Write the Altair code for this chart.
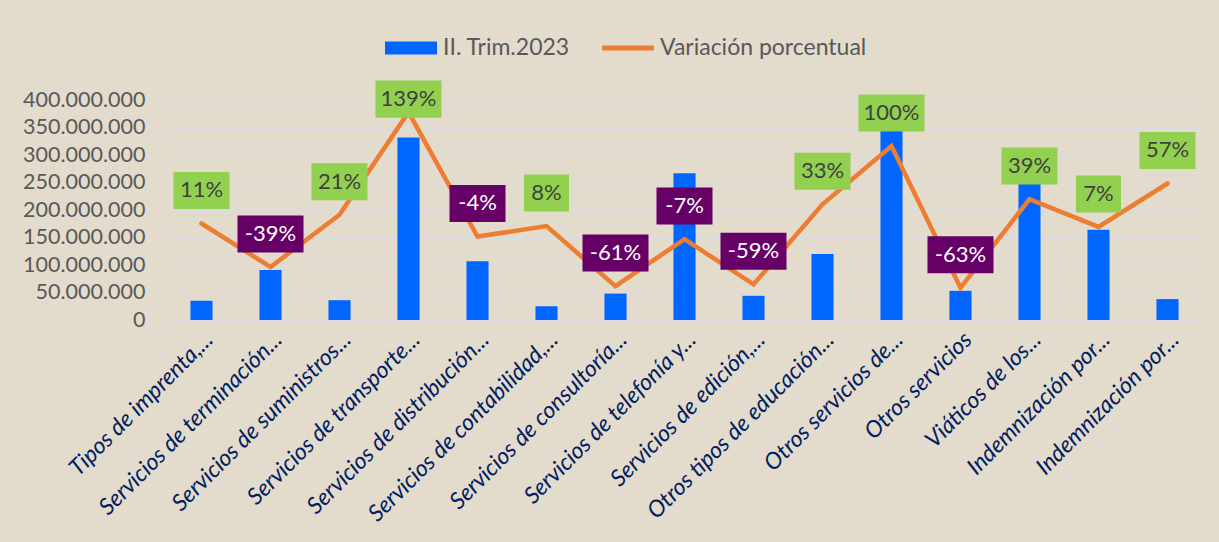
import json
import altair as alt
import pandas as pd

categories = [
    "Tipos de imprenta,...",
    "Servicios de terminación...",
    "Servicios de suministros...",
    "Servicios de transporte...",
    "Servicios de distribución...",
    "Servicios de contabilidad,...",
    "Servicios de consultoría...",
    "Servicios de telefonía y...",
    "Servicios de edición,...",
    "Otros tipos de educación...",
    "Otros servicios de...",
    "Otros servicios",
    "Viáticos de los...",
    "Indemnización por...",
    "Indemnización por...",
]
trim_2023 = [35000000, 91000000, 36000000, 332000000, 107000000, 25000000, 48000000,
             267000000, 44000000, 120000000, 355000000, 53000000, 255000000,
             164000000, 38000000]
variacion = [0.11, -0.39, 0.21, 1.39, -0.04, 0.08, -0.61, -0.07, -0.59, 0.33, 1.00,
             -0.63, 0.39, 0.07, 0.57]
y_ticks = [0, 50000000, 100000000, 150000000, 200000000, 250000000, 300000000,
           350000000, 400000000]
series = ["II. Trim.2023", "Variación porcentual"]

df = pd.DataFrame({
    "idx": list(range(len(categories))),
    "valor": trim_2023,
    "pct": variacion,
})

FONT = "Lato"
PCT_DOMAIN = [-1.0, 1.53]

x_enc = alt.X(
    "idx:O",
    title=None,
    scale=alt.Scale(paddingInner=0.68, paddingOuter=0.34),
    axis=alt.Axis(
        labelExpr=f"{json.dumps(categories)}[datum.value]",
        labelAngle=-45,
        labelFont=FONT,
        labelFontStyle="italic",
        labelFontSize=23,
        labelColor="#002060",
        labelLimit=400,
        labelPadding=8,
        domain=False,
        ticks=False,
        grid=False,
    ),
)

color_scale = alt.Scale(domain=series, range=["#0066ff", "#ed7d31"])
legend = alt.Legend(
    title=None,
    orient="none",
    direction="horizontal",
    legendX=218,
    legendY=-78,
    labelFont=FONT,
    labelFontSize=23,
    labelColor="#595959",
    labelOffset=6,
    labelLimit=400,
    columnPadding=32,
    symbolSize=2704,
    symbolType=alt.ExprRef(
        expr="datum.value === 'II. Trim.2023' ? 'M-1,-0.25H1V0.25H-1Z' : 'M-1,-0.1H1V0.1H-1Z'"
    ),
    symbolStrokeWidth=0,
    symbolOpacity=1,
)

base = alt.Chart(df)

bars = base.transform_calculate(serie=f"'{series[0]}'").mark_bar().encode(
    x=x_enc,
    y=alt.Y(
        "valor:Q",
        title=None,
        scale=alt.Scale(domain=[0, 400000000], nice=False),
        axis=alt.Axis(
            values=y_ticks,
            labelExpr="replace(format(datum.value, ','), regexp(',', 'g'), '.')",
            labelFont=FONT,
            labelFontSize=21.5,
            labelColor="#595959",
            labelPadding=22,
            domain=False,
            ticks=False,
            grid=True,
            gridColor="#d9dce0",
            gridWidth=1.3,
        ),
    ),
    color=alt.Color("serie:N", scale=color_scale, legend=legend),
)

line = base.transform_calculate(serie=f"'{series[1]}'").mark_line(
    strokeWidth=4.5, strokeCap="round", strokeJoin="miter"
).encode(
    x=x_enc,
    y=alt.Y("pct:Q", scale=alt.Scale(domain=PCT_DOMAIN, nice=False, zero=False), axis=None),
    color=alt.Color("serie:N", scale=color_scale, legend=legend),
)

lab = base.transform_calculate(
    ly="min(datum.pct + 0.38, 1.54)",
    lab="toString(round(datum.pct * 100)) + '%'",
).transform_calculate(
    n="length(datum.lab)"
)

boxes = lab.mark_point(filled=True, size=4900, opacity=1, strokeWidth=0).encode(
    x=x_enc,
    y=alt.Y("ly:Q", scale=alt.Scale(domain=PCT_DOMAIN, nice=False, zero=False), axis=None),
    shape=alt.Shape(
        "n:O",
        scale=alt.Scale(
            domain=[2, 3, 4],
            range=[
                "M-0.643,-0.529H0.643V0.529H-0.643Z",
                "M-0.8,-0.529H0.8V0.529H-0.8Z",
                "M-0.943,-0.529H0.943V0.529H-0.943Z",
            ],
        ),
        legend=None,
    ),
    fill=alt.condition("datum.pct < 0", alt.value("#660066"), alt.value("#92d050")),
)

texts = lab.mark_text(font=FONT, fontSize=22, align="center", baseline="middle").encode(
    x=x_enc,
    y=alt.Y("ly:Q", scale=alt.Scale(domain=PCT_DOMAIN, nice=False, zero=False), axis=None),
    text="lab:N",
    color=alt.condition("datum.pct < 0", alt.value("#ffffff"), alt.value("#404040")),
)

chart = (
    alt.layer(bars, line, boxes, texts)
    .resolve_scale(y="independent")
    .properties(
        width=1035,
        height=220,
        background="#e3dbcc",
        autosize=alt.AutoSizeParams(type="none"),
        padding={"left": 167, "top": 100, "right": 17, "bottom": 222},
    )
    .configure_view(stroke=None)
)

chart.save("out.html", embed_options={"renderer": "svg", "actions": False})
